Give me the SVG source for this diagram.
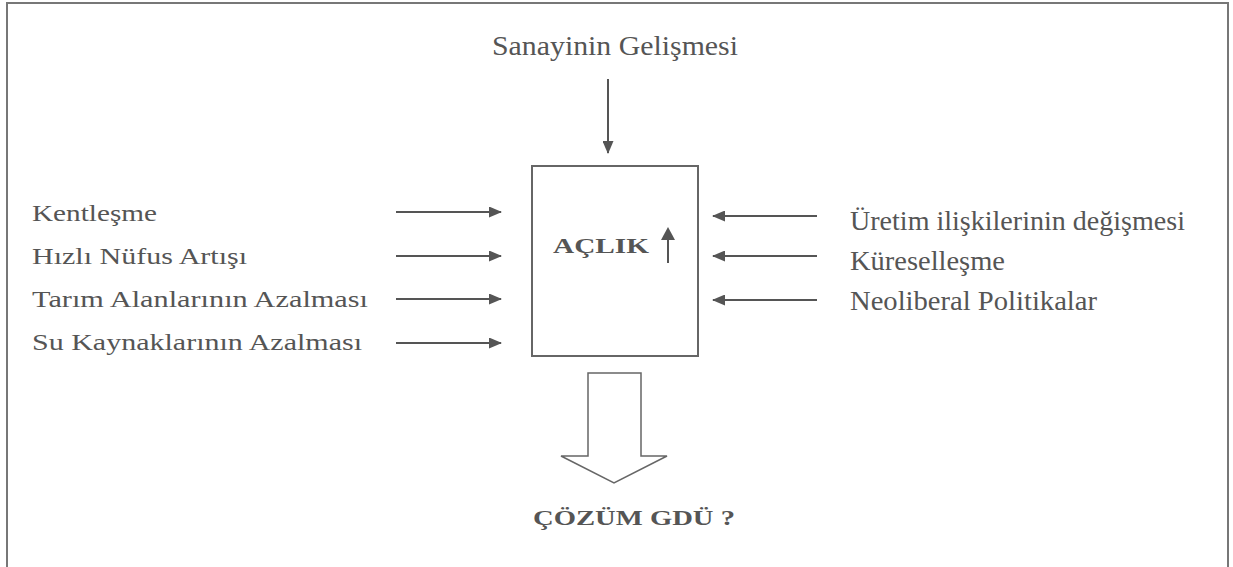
<svg xmlns="http://www.w3.org/2000/svg" width="1233" height="567" viewBox="0 0 1233 567">
<style>
.t{font-family:"Liberation Serif","Times New Roman",serif;fill:#555;font-size:23px}
.tr{font-family:"Liberation Serif","Times New Roman",serif;fill:#555;font-size:27px}
.b{font-family:"Liberation Serif","Times New Roman",serif;fill:#555;font-size:22px;font-weight:bold}
.ln{stroke:#555;stroke-width:2;fill:none}
</style>
<defs>
<marker id="ah" markerWidth="13" markerHeight="11" refX="12" refY="5.5" orient="auto" markerUnits="userSpaceOnUse">
<path d="M0,0 L13,5.5 L0,11 Z" fill="#555"/>
</marker>
</defs>
<rect x="0" y="0" width="1233" height="567" fill="#fff"/>
<rect x="7" y="3" width="1221" height="620" fill="none" stroke="#777" stroke-width="2"/>

<g id="sanayi"><text class="tr" x="492" y="55" textLength="246" lengthAdjust="spacingAndGlyphs">Sanayinin Gelişmesi</text></g>
<g id="kentlesme"><text class="t" x="32" y="221" textLength="125" lengthAdjust="spacingAndGlyphs">Kentleşme</text></g>
<g id="nufus"><text class="t" x="32" y="264" textLength="215" lengthAdjust="spacingAndGlyphs">Hızlı Nüfus Artışı</text></g>
<g id="tarim"><text class="t" x="32" y="307" textLength="336" lengthAdjust="spacingAndGlyphs">Tarım Alanlarının Azalması</text></g>
<g id="su"><text class="t" x="32" y="350" textLength="330" lengthAdjust="spacingAndGlyphs">Su Kaynaklarının Azalması</text></g>
<g id="uretim"><text class="tr" x="850" y="230" textLength="335" lengthAdjust="spacingAndGlyphs">Üretim ilişkilerinin değişmesi</text></g>
<g id="kuresel"><text class="tr" x="850" y="270" textLength="155" lengthAdjust="spacingAndGlyphs">Küreselleşme</text></g>
<g id="neolib"><text class="tr" x="850" y="310" textLength="247" lengthAdjust="spacingAndGlyphs">Neoliberal Politikalar</text></g>

<g id="aclik">
<rect x="532" y="166" width="166" height="190" fill="none" stroke="#666" stroke-width="2"/>
<text class="b" x="553" y="253" textLength="96" lengthAdjust="spacingAndGlyphs">AÇLIK</text>
<line x1="668" y1="263" x2="668" y2="238" stroke="#555" stroke-width="2"/>
<path d="M661,240 L668,227 L675,240 Z" fill="#555"/>
</g>

<g id="cozum">
<path d="M588,373 L641,373 L641,456 L667,456 L614,483 L561,456 L588,456 Z" fill="#fff" stroke="#666" stroke-width="1.5" stroke-linejoin="miter"/>
<text class="b" x="533" y="525" textLength="202" lengthAdjust="spacingAndGlyphs">ÇÖZÜM GDÜ ?</text>
</g>

<g id="connectors">
<line class="ln" x1="608" y1="79" x2="608" y2="153" marker-end="url(#ah)"/>
<line class="ln" x1="396" y1="212" x2="501" y2="212" marker-end="url(#ah)"/>
<line class="ln" x1="396" y1="256" x2="501" y2="256" marker-end="url(#ah)"/>
<line class="ln" x1="396" y1="299" x2="501" y2="299" marker-end="url(#ah)"/>
<line class="ln" x1="396" y1="343" x2="501" y2="343" marker-end="url(#ah)"/>
<line class="ln" x1="817" y1="216" x2="713" y2="216" marker-end="url(#ah)"/>
<line class="ln" x1="817" y1="256" x2="713" y2="256" marker-end="url(#ah)"/>
<line class="ln" x1="817" y1="300" x2="713" y2="300" marker-end="url(#ah)"/>
</g>
</svg>
